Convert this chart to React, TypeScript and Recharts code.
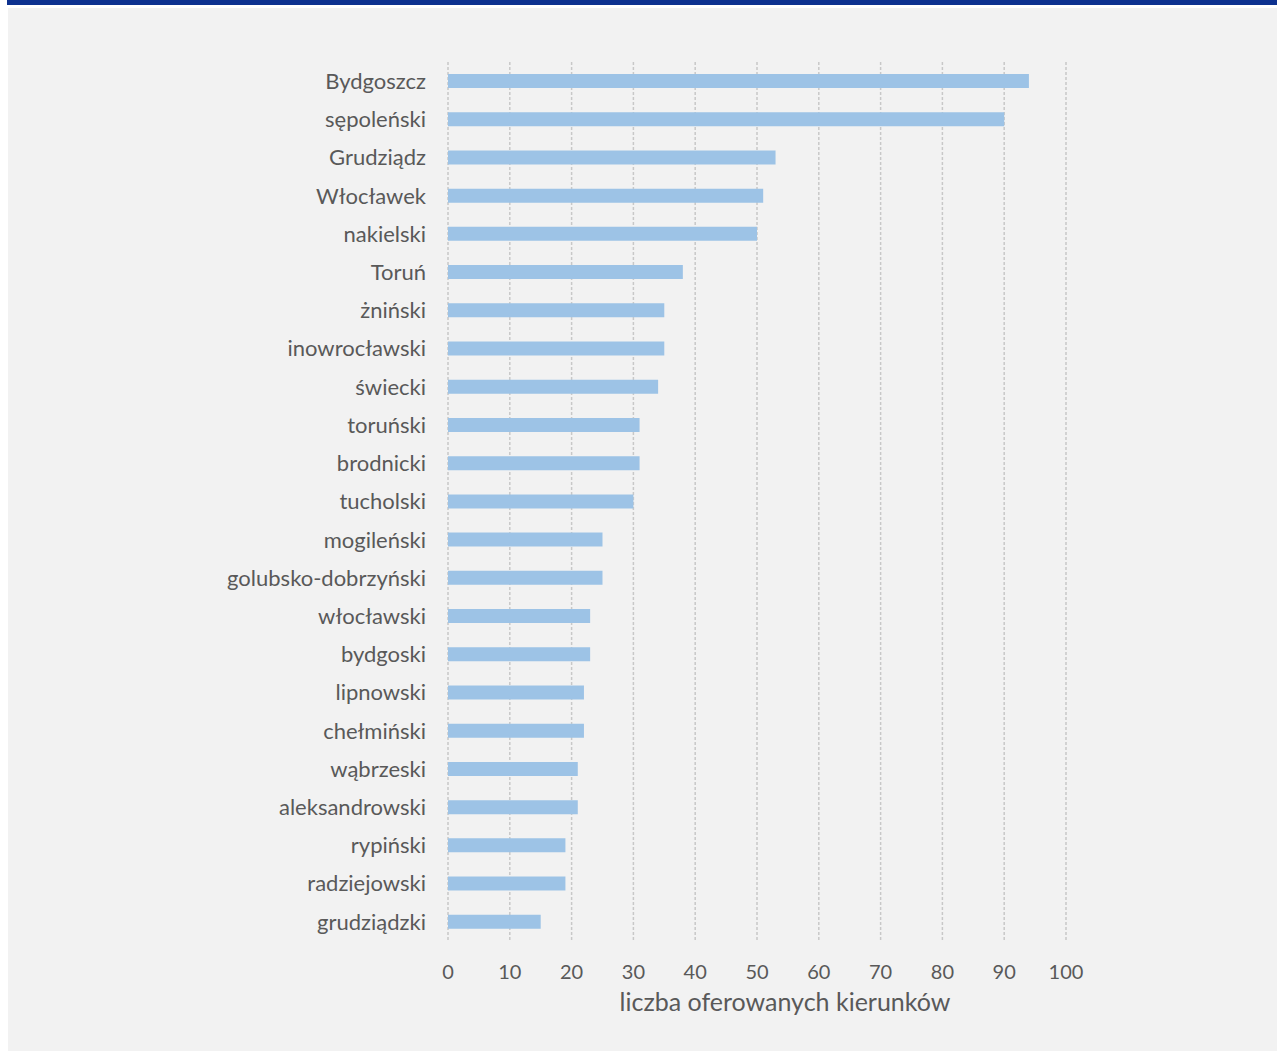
import { BarChart, Bar, XAxis, YAxis, CartesianGrid } from 'recharts';

// powiaty / miasta (top to bottom)
const regions = [
  'Bydgoszcz', 'sępoleński', 'Grudziądz', 'Włocławek', 'nakielski', 'Toruń',
  'żniński', 'inowrocławski', 'świecki', 'toruński', 'brodnicki', 'tucholski',
  'mogileński', 'golubsko-dobrzyński', 'włocławski', 'bydgoski', 'lipnowski',
  'chełmiński', 'wąbrzeski', 'aleksandrowski', 'rypiński', 'radziejowski', 'grudziądzki',
];
const kierunki = [94, 90, 53, 51, 50, 38, 35, 35, 34, 31, 31, 30, 25, 25, 23, 23, 22, 22, 21, 21, 19, 19, 15];
const xTicks = [0, 10, 20, 30, 40, 50, 60, 70, 80, 90, 100];

const data = regions.map((name, i) => ({ name, value: kierunki[i] }));

const font = 'Lato, "Open Sans", sans-serif';
const textColor = '#595959';

export default function App() {
  return (
    <div style={{ fontFamily: font }}>
      {/* top banner strip from the page above */}
      <div style={{ position: 'fixed', top: 0, left: 7, width: 1270, height: 5, background: '#0d318f' }} />
      <div style={{ position: 'fixed', top: 8, left: 8, width: 1269, height: 1043, background: '#f2f2f2' }}>
        <BarChart
          width={1269}
          height={1043}
          layout="vertical"
          data={data}
          margin={{ top: 54, right: 211, left: 0, bottom: 0 }}
          barCategoryGap={12}
        >
          <CartesianGrid horizontal={false} stroke="#c8c8c8" strokeWidth={1.5} strokeDasharray="3 2" />
          <XAxis
            type="number"
            domain={[0, 100]}
            ticks={xTicks}
            axisLine={false}
            tickLine={false}
            height={110}
            tickMargin={18}
            tick={{ fill: textColor, fontSize: 20, fontFamily: font }}
            label={{ value: 'liczba oferowanych kierunków', position: 'insideTop', offset: 52, dx: 28, fill: textColor, fontSize: 25, fontFamily: font }}
          />
          <YAxis
            type="category"
            dataKey="name"
            width={440}
            axisLine={false}
            tickLine={false}
            tickMargin={16}
            interval={0}
            tick={{ fill: textColor, fontSize: 22, fontFamily: font }}
          />
          <Bar dataKey="value" fill="#9dc3e6" barSize={14} isAnimationActive={false} />
        </BarChart>
      </div>
    </div>
  );
}
